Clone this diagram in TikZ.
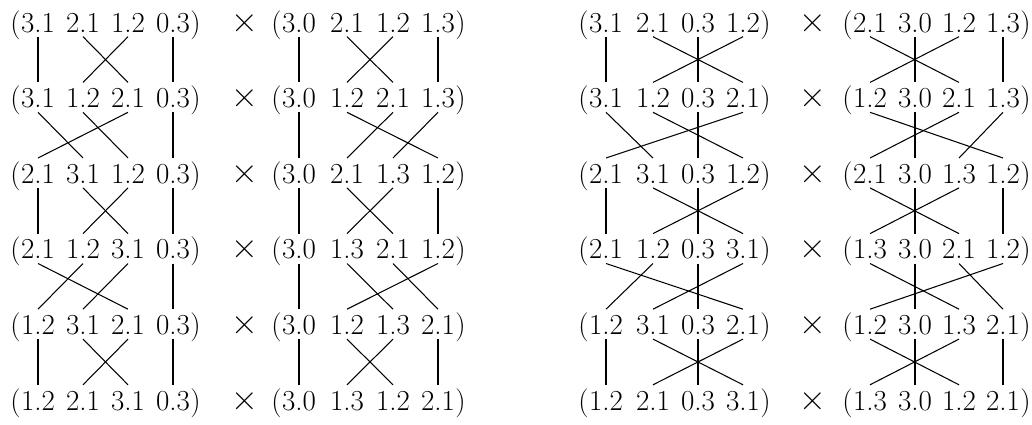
\documentclass[tikz,border=0pt]{standalone}
\usepackage{fontspec}
\tikzset{
  big/.style={font=\fontsize{29}{34}\selectfont},
  num/.style={big, inner sep=0pt, text height=25pt, text depth=4.5pt, anchor=base},
  paren/.style={big, inner sep=0pt},
  timessign/.style={font=\fontsize{37}{40}\selectfont, inner sep=0pt, anchor=base},
  link/.style={line width=1.05pt},
}
\newcommand\putrow[4]{%
  \foreach \tx/\cd [count=\i] in {#4} {
    \pgfmathsetmacro\xx{{#3}[\i-1]}
    \node[num] (#1#2-\cd) at (\xx, {32+(#2-1)*75.6}) {\tx};
    \ifnum\i=1 \node[paren, anchor=base east] (#1#2-lp) at (#1#2-\cd.base west) {(};\fi
    \ifnum\i=4 \node[paren, anchor=base west] (#1#2-rp) at (#1#2-\cd.base east) {)};\fi
  }
}
\begin{document}
\begin{tikzpicture}[x=1pt, y=-1pt]
\useasboundingbox (0,0) rectangle (1032,424);
% tuple A
\putrow{A}{1}{38,83,128,173}{3.1/31,2.1/21,1.2/12,0.3/03}
\putrow{A}{2}{38,83,128,173}{3.1/31,1.2/12,2.1/21,0.3/03}
\putrow{A}{3}{38,83,128,173}{2.1/21,3.1/31,1.2/12,0.3/03}
\putrow{A}{4}{38,83,128,173}{2.1/21,1.2/12,3.1/31,0.3/03}
\putrow{A}{5}{38,83,128,173}{1.2/12,3.1/31,2.1/21,0.3/03}
\putrow{A}{6}{38,83,128,173}{1.2/12,2.1/21,3.1/31,0.3/03}
% tuple B
\putrow{B}{1}{299,347,393,438}{3.0/30,2.1/21,1.2/12,1.3/13}
\putrow{B}{2}{299,347,393,438}{3.0/30,1.2/12,2.1/21,1.3/13}
\putrow{B}{3}{299,347,393,438}{3.0/30,2.1/21,1.3/13,1.2/12}
\putrow{B}{4}{299,347,393,438}{3.0/30,1.3/13,2.1/21,1.2/12}
\putrow{B}{5}{299,347,393,438}{3.0/30,1.2/12,1.3/13,2.1/21}
\putrow{B}{6}{299,347,393,438}{3.0/30,1.3/13,1.2/12,2.1/21}
% tuple C
\putrow{C}{1}{606,653,698,743}{3.1/31,2.1/21,0.3/03,1.2/12}
\putrow{C}{2}{606,653,698,743}{3.1/31,1.2/12,0.3/03,2.1/21}
\putrow{C}{3}{606,653,698,743}{2.1/21,3.1/31,0.3/03,1.2/12}
\putrow{C}{4}{606,653,698,743}{2.1/21,1.2/12,0.3/03,3.1/31}
\putrow{C}{5}{606,653,698,743}{1.2/12,3.1/31,0.3/03,2.1/21}
\putrow{C}{6}{606,653,698,743}{1.2/12,2.1/21,0.3/03,3.1/31}
% tuple D
\putrow{D}{1}{870,915,959,1003}{2.1/21,3.0/30,1.2/12,1.3/13}
\putrow{D}{2}{870,915,959,1003}{1.2/12,3.0/30,2.1/21,1.3/13}
\putrow{D}{3}{870,915,959,1003}{2.1/21,3.0/30,1.3/13,1.2/12}
\putrow{D}{4}{870,915,959,1003}{1.3/13,3.0/30,2.1/21,1.2/12}
\putrow{D}{5}{870,915,959,1003}{1.2/12,3.0/30,1.3/13,2.1/21}
\putrow{D}{6}{870,915,959,1003}{1.3/13,3.0/30,1.2/12,2.1/21}
% times signs
\foreach \r in {1,...,6} {
  \node[timessign] (xL\r) at (245, {32+(\r-1)*75.6}) {×};
  \node[timessign] (xR\r) at (813, {32+(\r-1)*75.6}) {×};
}
% connectors
\foreach \r in {1,...,5} {
  \pgfmathtruncatemacro\n{\r+1}
  \foreach \c in {31,21,12,03} \draw[link] (A\r-\c.south) -- (A\n-\c.north);
  \foreach \c in {30,21,12,13} \draw[link] (B\r-\c.south) -- (B\n-\c.north);
  \foreach \c in {31,21,03,12} \draw[link] (C\r-\c.south) -- (C\n-\c.north);
  \foreach \c in {21,30,12,13} \draw[link] (D\r-\c.south) -- (D\n-\c.north);
}
\end{tikzpicture}
\end{document}
